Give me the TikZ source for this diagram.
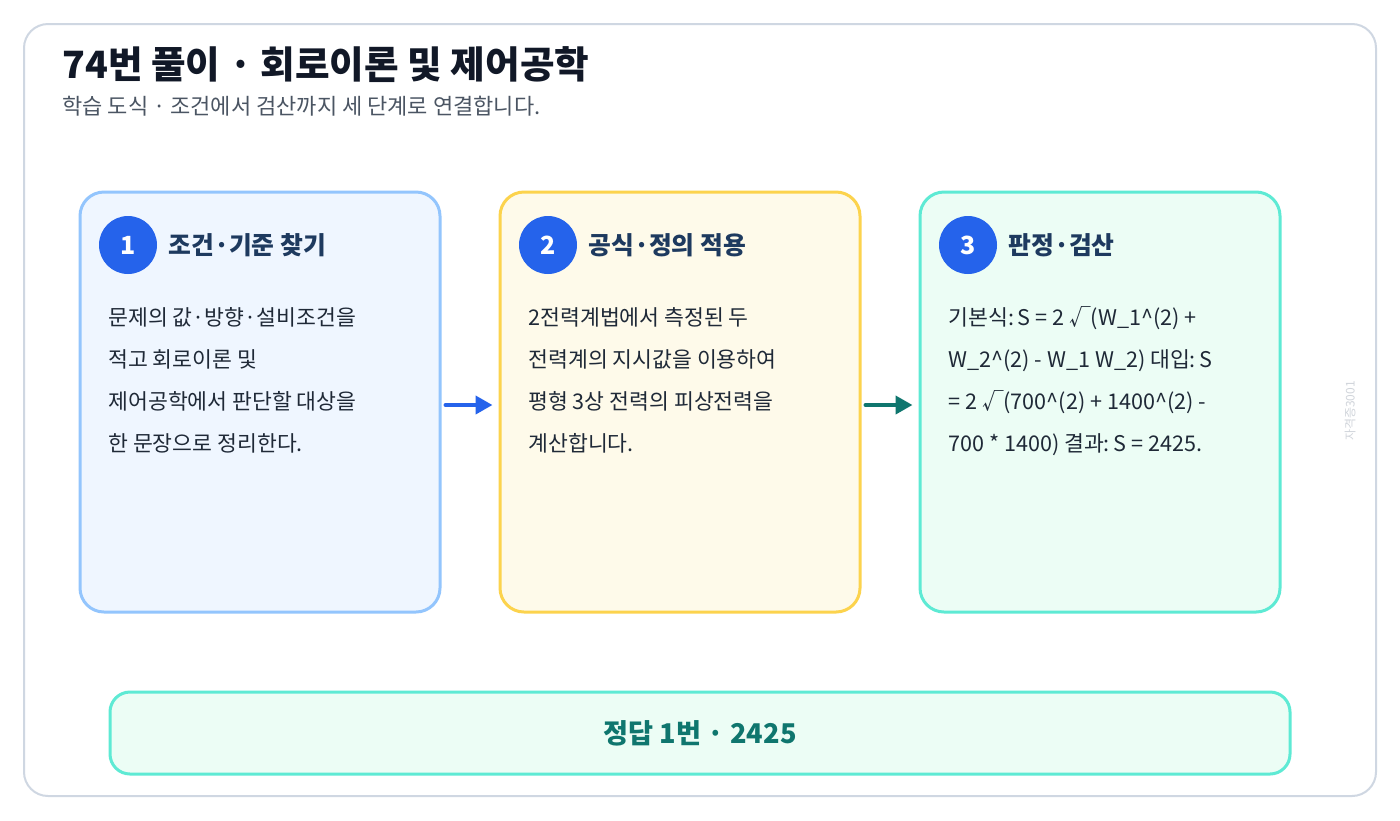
\documentclass[tikz,border=0pt]{standalone}
\usepackage{fontspec}
\setmainfont{Noto Sans CJK KR}
\usetikzlibrary{arrows.meta}
\definecolor{framec}{HTML}{CFD7E2}
\definecolor{titlec}{HTML}{111827}
\definecolor{subc}{HTML}{4B5563}
\definecolor{headc}{HTML}{1E3A5F}
\definecolor{bodyc}{HTML}{1F2937}
\definecolor{bluec}{HTML}{2563EB}
\definecolor{tealc}{HTML}{0F766E}
\definecolor{f1}{HTML}{EFF6FF}
\definecolor{s1}{HTML}{93C5FD}
\definecolor{f2}{HTML}{FEFAEA}
\definecolor{s2}{HTML}{FCD34D}
\definecolor{f3}{HTML}{ECFDF5}
\definecolor{s3}{HTML}{5EEAD4}
\definecolor{wmc}{HTML}{D1D5DB}
\newcommand{\mycolon}{:\kern-0.12em}
\begin{document}
\begin{tikzpicture}[x=0.5pt,y=-0.5pt,
  card/.style={draw=#1,line width=1.5pt,rounded corners=12pt,minimum width=180pt,minimum height=210pt,inner sep=0pt},
  badge/.style={circle,fill=bluec,minimum size=29pt,inner sep=0pt,text=white,font=\bfseries\fontsize{12.5}{14}\selectfont},
  head/.style={anchor=base west,inner sep=0pt,text=headc,font=\bfseries\fontsize{12.4}{14}\selectfont},
  body/.style={anchor=base west,inner sep=0pt,text=bodyc,font=\fontsize{10.8}{12}\selectfont},
  flow/.style={line width=2pt,line cap=round,-{Triangle[length=8.5pt,width=9pt]}}]
\useasboundingbox (0,0) rectangle (1400,820);
\node[draw=framec,line width=1pt,fill=white,rounded corners=12pt,minimum width=676pt,minimum height=386pt,inner sep=0pt] (frame) at (700,410) {};
\node[anchor=base west,inner sep=0pt,text=titlec,font=\bfseries\fontsize{18.8}{22}\selectfont] (title) at (62,78) {74번 풀이 · 회로이론 및 제어공학};
\node[anchor=base west,inner sep=0pt,text=subc,font=\fontsize{11}{13}\selectfont] (sub) at (62,114) {학습 도식 · 조건에서 검산까지 세 단계로 연결합니다.};
% cards
\node[card=s1,fill=f1] (c1) at (260,402) {};
\node[card=s2,fill=f2] (c2) at (680,402) {};
\node[card=s3,fill=f3] (c3) at (1100,402) {};
% badges and heads
\node[badge] (n1) at (128,245) {1};
\node[badge] (n2) at (548,245) {2};
\node[badge] (n3) at (968,245) {3};
\node[head] (h1) at (168,254) {조건·기준 찾기};
\node[head] (h2) at (588,254) {공식·정의 적용};
\node[head] (h3) at (1008,254) {판정·검산};
% body texts
\node[body] (a1) at (108,325) {문제의 값·방향·설비조건을};
\node[body] (a2) at (108,367) {적고 회로이론 및};
\node[body] (a3) at (108,409) {제어공학에서 판단할 대상을};
\node[body] (a4) at (108,451) {한 문장으로 정리한다.};
\node[body] (b1) at (528,325) {2전력계법에서 측정된 두};
\node[body] (b2) at (528,367) {전력계의 지시값을 이용하여};
\node[body] (b3) at (528,409) {평형 3상 전력의 피상전력을};
\node[body] (b4) at (528,451) {계산합니다.};
\node[body] (d1) at (948,325) {기본식\mycolon{} S = 2 √(W\_1\^{}(2) +};
\node[body] (d2) at (948,367) {W\_2\^{}(2) - W\_1 W\_2) 대입\mycolon{} S};
\node[body] (d3) at (948,409) {= 2 √(700\^{}(2) + 1400\^{}(2) -};
\node[body] (d4) at (948,451) {700 * 1400) 결과\mycolon{} S = 2425.};
% arrows
\draw[flow,draw=bluec,fill=bluec,shorten <=2pt,shorten >=3pt] ([yshift=-1.5pt]c1.east) -- ([yshift=-1.5pt]c2.west);
\draw[flow,draw=tealc,fill=tealc,shorten <=2pt,shorten >=3pt] ([yshift=-1.5pt]c2.east) -- ([yshift=-1.5pt]c3.west);
% answer
\node[draw=s3,fill=f3,line width=1.5pt,rounded corners=10pt,minimum width=590pt,minimum height=41pt,inner sep=0pt,text=tealc,font=\bfseries\fontsize{13.6}{16}\selectfont] (ans) at (700,733) {정답 1번 · 2425};
% watermark
\node[rotate=90,text=wmc,inner sep=0pt,font=\fontsize{6}{7}\selectfont] (wm) at (1350,411) {자격증3001};
\end{tikzpicture}
\end{document}
